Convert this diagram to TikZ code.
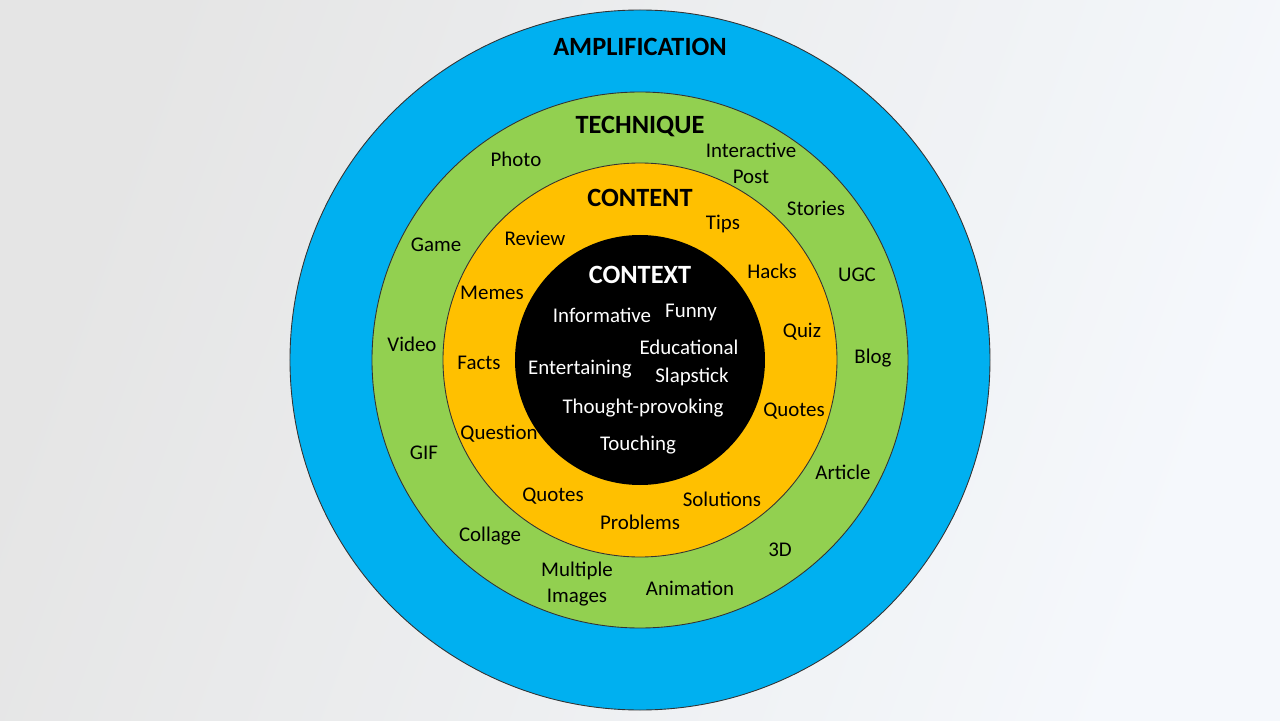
\documentclass[tikz,border=0pt]{standalone}
\usepackage{fontspec}
\setmainfont{Carlito}
\definecolor{ampblue}{HTML}{00B0F0}
\definecolor{techgreen}{HTML}{92D050}
\definecolor{contyellow}{HTML}{FFC000}
\definecolor{bgleft}{HTML}{E5E5E5}
\definecolor{bgright}{HTML}{F5F8FC}
\tikzset{
    ringtitle/.style={font=\fontsize{15}{16}\selectfont\bfseries, text=black},
    ringitem/.style={font=\fontsize{11.9}{14.7}\selectfont, text=black, align=center, inner sep=1pt},
    ctxitem/.style={ringitem, text=white},
}
\begin{document}
\begin{tikzpicture}
    \def\ampradius{7.0}
    \def\techradius{5.36}
    \def\contradius{3.94}
    \def\ctxradius{2.5}

    % Background
    \shade[left color=bgleft, right color=bgright, shading angle=70] (-12.8,-7.2) rectangle (12.8,7.2);
    \useasboundingbox (-12.8,-7.2) rectangle (12.8,7.2);

    % Draw the rings
    \draw[fill=ampblue, draw=black!80, line width=0.5pt] (0,0) circle (\ampradius);
    \draw[fill=techgreen, draw=black!80, line width=0.5pt] (0,0) circle (\techradius);
    \draw[fill=contyellow, draw=black!80, line width=0.5pt] (0,0) circle (\contradius);
    \fill[black] (0,0) circle (\ctxradius);

    % Amplification
    \node[ringtitle] (amplification) at (0,6.26) {AMPLIFICATION};

    % Technique
    \node[ringtitle] (technique) at (0,4.66) {TECHNIQUE};
    \node[ringitem] (photo) at (-2.48,4.02) {Photo};
    \node[ringitem] (interactive) at (2.22,3.94) {Interactive\\Post};
    \node[ringitem] (stories) at (3.52,3.04) {Stories};
    \node[ringitem] (game) at (-4.08,2.30) {Game};
    \node[ringitem] (ugc) at (4.34,1.70) {UGC};
    \node[ringitem] (video) at (-4.56,0.32) {Video};
    \node[ringitem] (blog) at (4.66,0.04) {Blog};
    \node[ringitem] (gif) at (-4.32,-1.86) {GIF};
    \node[ringitem] (article) at (4.06,-2.24) {Article};
    \node[ringitem] (collage) at (-3.00,-3.52) {Collage};
    \node[ringitem] (threed) at (2.80,-3.80) {3D};
    \node[ringitem] (multiple) at (-1.26,-4.48) {Multiple\\Images};
    \node[ringitem] (animation) at (1.00,-4.56) {Animation};

    % Content
    \node[ringtitle] (content) at (0,3.24) {CONTENT};
    \node[ringitem] (tips) at (1.66,2.72) {Tips};
    \node[ringitem] (review) at (-2.10,2.44) {Review};
    \node[ringitem] (hacks) at (2.64,1.78) {Hacks};
    \node[ringitem] (memes) at (-2.96,1.34) {Memes};
    \node[ringitem] (quiz) at (3.24,0.56) {Quiz};
    \node[ringitem] (facts) at (-3.22,-0.06) {Facts};
    \node[ringitem] (quotesright) at (3.08,-1.02) {Quotes};
    \node[ringitem] (question) at (-2.82,-1.48) {Question};
    \node[ringitem] (quotesleft) at (-1.74,-2.72) {Quotes};
    \node[ringitem] (solutions) at (1.64,-2.78) {Solutions};
    \node[ringitem] (problems) at (0,-3.24) {Problems};

    % Context
    \node[ringtitle, text=white] (context) at (0,1.70) {CONTEXT};
    \node[ctxitem] (informative) at (-0.76,0.90) {Informative};
    \node[ctxitem] (funny) at (1.02,0.96) {Funny};
    \node[ctxitem] (educational) at (0.98,0.26) {Educational};
    \node[ctxitem] (entertaining) at (-1.20,-0.18) {Entertaining};
    \node[ctxitem] (slapstick) at (1.04,-0.34) {Slapstick};
    \node[ctxitem] (thought) at (0.06,-0.96) {Thought-provoking};
    \node[ctxitem] (touching) at (-0.04,-1.70) {Touching};
\end{tikzpicture}
\end{document}
